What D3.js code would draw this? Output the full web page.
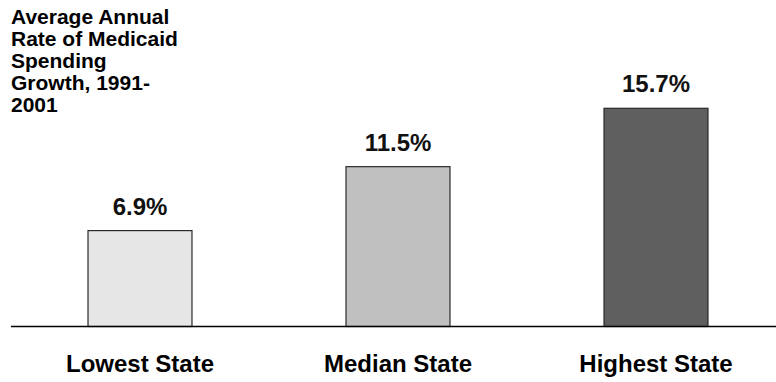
<!DOCTYPE html>
<html>
<head>
<meta charset="utf-8">
<script src="https://cdn.jsdelivr.net/npm/d3@7"></script>
<style>
  html, body { margin: 0; padding: 0; background: #fff; }
  svg { display: block; font-family: "Liberation Sans", Arial, sans-serif; }
</style>
</head>
<body>
<svg id="chart" width="776" height="382"></svg>
<script>
// Medicaid spending growth by state rank
const categories = ["Lowest State", "Median State", "Highest State"];
const growthRates = [6.9, 11.5, 15.7];
const valueLabels = ["6.9%", "11.5%", "15.7%"];
const barColors = ["#e6e6e6", "#c0c0c0", "#5f5f5f"];
const titleLines = ["Average Annual", "Rate of Medicaid", "Spending", "Growth, 1991-", "2001"];

const svg = d3.select("#chart");
const baseY = 326.5;

const x = d3.scaleBand()
  .domain(categories)
  .range([11, 785])
  .paddingInner(0.597)
  .paddingOuter(0.2985);

const y = d3.scaleLinear()
  .domain([0, 15.7])
  .range([baseY, 108.3]);

const data = categories.map((c, i) => ({ cat: c, value: growthRates[i], label: valueLabels[i], color: barColors[i] }));

// Bars
svg.append("g").selectAll("rect")
  .data(data)
  .join("rect")
  .attr("x", d => x(d.cat))
  .attr("y", d => y(d.value))
  .attr("width", x.bandwidth())
  .attr("height", d => y(0) - y(d.value))
  .attr("fill", d => d.color)
  .attr("stroke", "#2a2a2a")
  .attr("stroke-width", 1.2);

// Baseline
svg.append("line")
  .attr("x1", 11).attr("x2", 776)
  .attr("y1", y(0)).attr("y2", y(0))
  .attr("stroke", "#000")
  .attr("stroke-width", 1.6);

// Value labels
svg.append("g").selectAll("text")
  .data(data)
  .join("text")
  .attr("x", d => x(d.cat) + x.bandwidth() / 2)
  .attr("y", d => y(d.value) - 16)
  .attr("text-anchor", "middle")
  .attr("font-size", 24)
  .attr("font-weight", "bold")
  .attr("fill", "#111")
  .text(d => d.label);

// Category axis labels
const xAxis = d3.axisBottom(x).tickSize(0).tickPadding(0);
const axisG = svg.append("g")
  .attr("transform", `translate(0, 372)`)
  .call(xAxis);
axisG.select(".domain").remove();
axisG.selectAll("text")
  .attr("dy", 0)
  .attr("font-size", 24)
  .attr("font-weight", "bold")
  .attr("font-family", "Liberation Sans, Arial, sans-serif")
  .attr("fill", "#000");

// Title block
const title = svg.append("text")
  .attr("x", 11)
  .attr("y", 24)
  .attr("font-size", 21)
  .attr("font-weight", "bold")
  .attr("fill", "#000");
title.selectAll("tspan")
  .data(titleLines)
  .join("tspan")
  .attr("x", 11)
  .attr("dy", (d, i) => i === 0 ? 0 : 22)
  .text(d => d);
</script>
</body>
</html>
